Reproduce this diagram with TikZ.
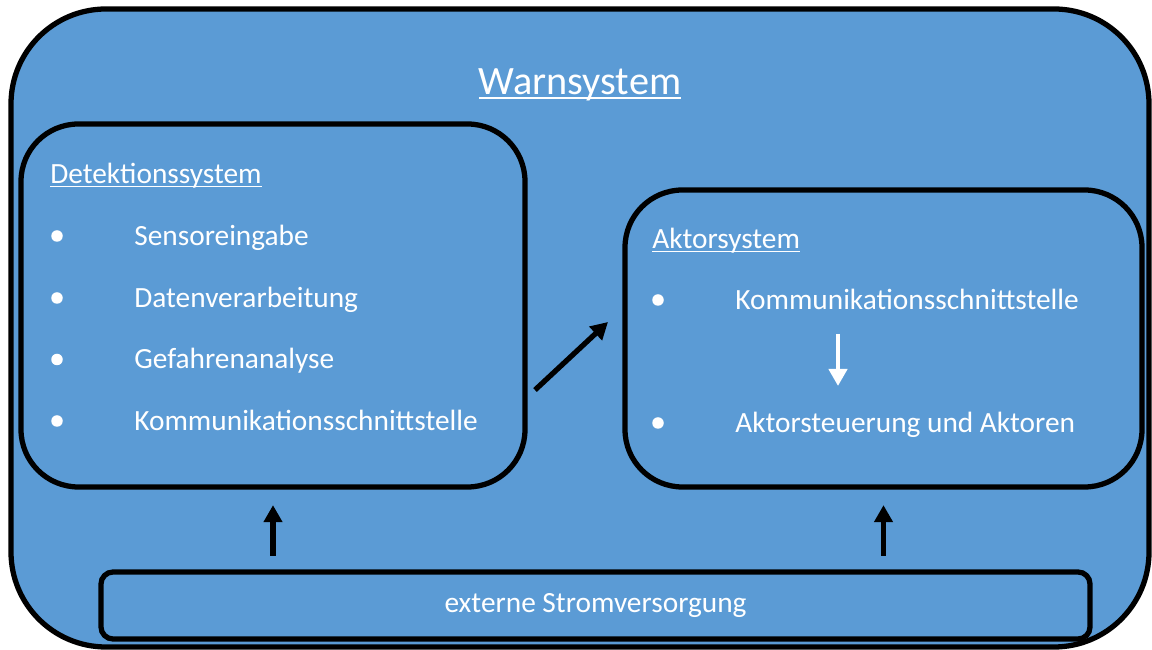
\documentclass[tikz,border=0pt]{standalone}
\usepackage{fontspec}
\setmainfont{Carlito}
\usetikzlibrary{arrows.meta,positioning}
\definecolor{warnblue}{HTML}{5B9BD5}
\newcommand\ulinetxt[1]{\setbox0\hbox{#1}\rlap{\rule[-0.11em]{\wd0}{0.055em}}\box0}

\begin{document}
\begin{tikzpicture}[
  font=\fontsize{16.7}{20}\selectfont,
  box/.style={draw, line width=3pt, fill=warnblue, rounded corners=1.15cm},
  txt/.style={text=white, inner sep=0pt, anchor=base west},
  dot/.style={circle, fill=white, inner sep=0pt, minimum size=0.23cm},
  arr/.style={-{Triangle[length=3.4mm,width=3.6mm]}, line width=3pt},
]
\useasboundingbox (0,0) rectangle (23.04,13);
\node[box, rounded corners=1.9cm, minimum width=22.76cm, minimum height=12.76cm] (warn) at (11.6,6.44) {};
\node[txt, anchor=base, font=\fontsize{22.9}{26}\selectfont] (warntitle) at (11.6,11.1)
  {\ulinetxt{Warnsystem}};

\node[box, minimum width=10.08cm, minimum height=7.26cm] (det) at (5.46,6.89) {};
\node[txt] (dettitle) at (1.0,9.32) {\ulinetxt{Detektionssystem}};
\node[dot] (detdot1) at (1.14,8.28) {};
\node[txt] (detitem1) at (2.68,8.08) {Sensoreingabe};
\node[dot] (detdot2) at (1.14,7.04) {};
\node[txt] (detitem2) at (2.68,6.85) {Datenverarbeitung};
\node[dot] (detdot3) at (1.14,5.81) {};
\node[txt] (detitem3) at (2.68,5.62) {Gefahrenanalyse};
\node[dot] (detdot4) at (1.14,4.58) {};
\node[txt] (detitem4) at (2.68,4.39) {Kommunikationsschnittstelle};

\node[box, minimum width=10.34cm, minimum height=5.94cm] (akt) at (17.67,6.23) {};
\node[txt] (akttitle) at (13.04,8.02) {\ulinetxt{Aktorsystem}};
\node[dot] (aktdot1) at (13.16,7.0) {};
\node[txt] (aktitem1) at (14.70,6.81) {Kommunikationsschnittstelle};
\node[dot] (aktdot2) at (13.16,4.54) {};
\node[txt] (aktitem2) at (14.70,4.35) {Aktorsteuerung und Aktoren};

\node[box, rounded corners=0.24cm, minimum width=19.78cm, minimum height=1.34cm, text=white]
  (power) at (11.91,0.89) {externe Stromversorgung};

\coordinate (linkfrom) at (10.70,5.20);
\coordinate (linkto) at (12.16,6.56);
\coordinate (aktfrom) at (16.76,6.32);
\coordinate (aktto) at (16.76,5.28);

\draw[arr, shorten <=0.27cm, shorten >=0.31cm] (power.north -| det.south) -- (det.south);
\draw[arr, shorten <=0.27cm, shorten >=0.31cm] (power.north -| akt.south) -- (akt.south);
\draw[arr] (linkfrom) -- (linkto);
\draw[arr, white, line width=2.6pt] (aktfrom) -- (aktto);
\end{tikzpicture}
\end{document}
